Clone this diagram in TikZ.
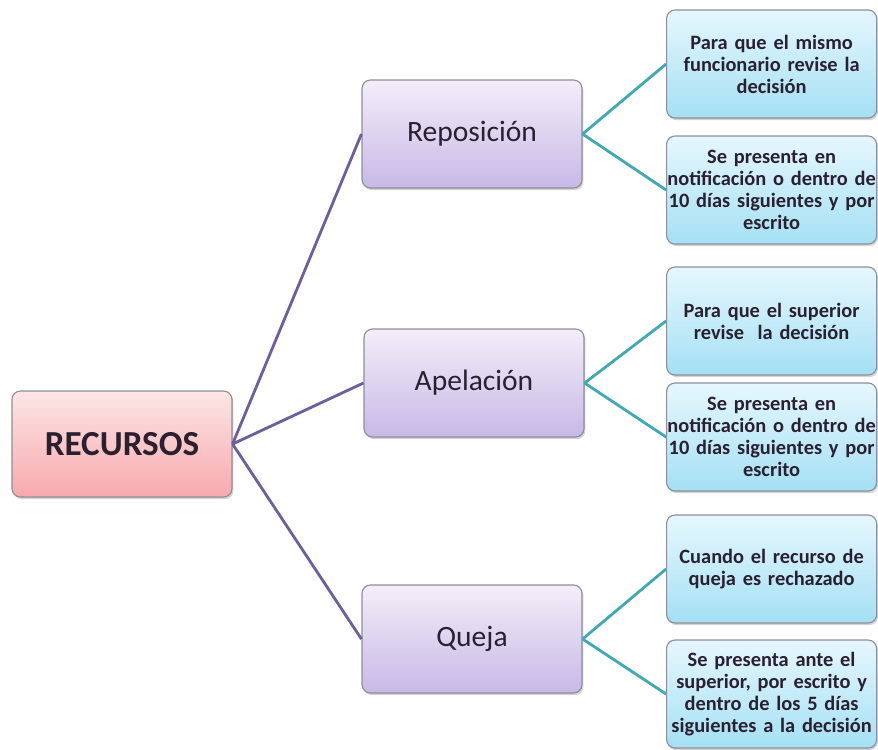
\documentclass[tikz,border=0pt]{standalone}
\usepackage{fontspec}
\setmainfont{Carlito}
\usetikzlibrary{positioning, shadows}
\definecolor{rosaA}{HTML}{FDE6E6}
\definecolor{rosaB}{HTML}{F7A9AD}
\definecolor{lilaA}{HTML}{F3EEF9}
\definecolor{lilaB}{HTML}{C8B8E6}
\definecolor{celesteA}{HTML}{E6F7FD}
\definecolor{celesteB}{HTML}{A4E0F4}
\definecolor{borde}{HTML}{8E8E98}
\definecolor{lineaLila}{HTML}{6E5E9E}
\definecolor{lineaTeal}{HTML}{3FA9B4}
\definecolor{texto}{HTML}{2A2030}

\begin{document}
\begin{tikzpicture}[
    every node/.style={text=texto},
    caja/.style={draw=borde, line width=0.8pt, rounded corners=6pt,
        drop shadow={opacity=0.35, shadow xshift=1pt, shadow yshift=-1.5pt}},
    raiz/.style={caja, top color=rosaA, bottom color=rosaB,
        minimum width=5.5cm, minimum height=2.65cm,
        font=\fontsize{25}{30}\selectfont\bfseries},
    tipo/.style={caja, top color=lilaA, bottom color=lilaB,
        minimum width=5.5cm, minimum height=2.7cm,
        font=\fontsize{21}{25}\selectfont},
    hoja/.style={caja, top color=celesteA, bottom color=celesteB,
        minimum width=5.25cm, minimum height=2.7cm, text width=5.22cm, align=center,
        inner xsep=0pt, font=\fontsize{14.5}{15.6}\selectfont\bfseries},
    rama/.style={lineaLila, line width=2pt},
    sub/.style={lineaTeal, line width=2pt}
]
    \useasboundingbox (0,0) rectangle (21.95,-18.725);

    \node[raiz] (rec) at (3.05,-11.1) {RECURSOS};

    \node[tipo] (repo)  at (11.8,-3.35)   {Reposición};
    \node[tipo] (apel)  at (11.85,-9.575) {Apelación};
    \node[tipo] (queja) at (11.8,-15.975) {Queja};

    \node[hoja] (r1) at (19.29,-1.6)   {Para que el mismo\\funcionario revise la\\decisión};
    \node[hoja] (r2) at (19.29,-4.75)  {Se presenta en\\notificación o dentro de\\10 días siguientes y por\\escrito};
    \node[hoja] (a1) at (19.29,-8.025) {Para que el superior\\revise\ \ la decisión};
    \node[hoja] (a2) at (19.29,-10.925) {Se presenta en\\notificación o dentro de\\10 días siguientes y por\\escrito};
    \node[hoja] (q1) at (19.29,-14.225) {Cuando el recurso de\\queja es rechazado};
    \node[hoja] (q2) at (19.29,-17.35) {Se presenta ante el\\superior, por escrito y\\dentro de los 5 días\\siguientes a la decisión};

    % ramas principales
    \draw[rama] (rec.east) -- (repo.west);
    \draw[rama] (rec.east) -- (apel.west);
    \draw[rama] (rec.east) -- (queja.west);

    % detalles
    \draw[sub] (repo.east) -- (r1.west);
    \draw[sub] (repo.east) -- (r2.west);
    \draw[sub] (apel.east) -- (a1.west);
    \draw[sub] (apel.east) -- (a2.west);
    \draw[sub] (queja.east) -- (q1.west);
    \draw[sub] (queja.east) -- (q2.west);
\end{tikzpicture}
\end{document}
